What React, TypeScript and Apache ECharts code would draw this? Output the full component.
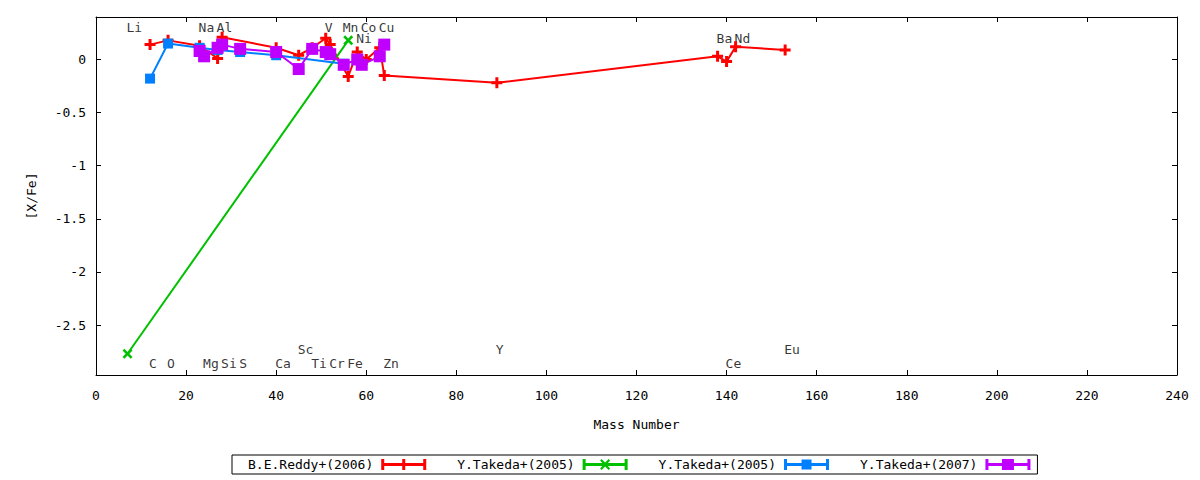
import React, { useEffect, useRef } from "react";
import * as echarts from "echarts";

// ---- data ----
const reddyX = [12, 16, 23, 27, 28, 40, 45, 48, 51, 52, 56, 58, 60, 63, 64, 89, 138, 140, 142, 153];
const reddyY = [0.14, 0.18, 0.13, 0.01, 0.21, 0.11, 0.04, 0.11, 0.2, 0.14, -0.16, 0.07, 0.0, 0.11, -0.15, -0.22, 0.03, -0.02, 0.12, 0.09];

const takeda05aX = [7, 56];
const takeda05aY = [-2.77, 0.18];

const takeda05bX = [12, 16, 23, 27, 32, 40, 55];
const takeda05bY = [-0.18, 0.15, 0.11, 0.09, 0.07, 0.04, -0.04];

const takeda07X = [23, 24, 27, 28, 32, 40, 45, 48, 51, 52, 55, 58, 59, 63, 64];
const takeda07Y = [0.08, 0.03, 0.11, 0.14, 0.1, 0.07, -0.09, 0.1, 0.07, 0.05, -0.05, 0.0, -0.05, 0.03, 0.14];

const elementNames = ["Li", "C", "O", "Na", "Mg", "Al", "Si", "S", "Ca", "Sc", "Ti", "V", "Cr", "Mn", "Fe", "Co", "Ni", "Cu", "Zn", "Y", "Ba", "Ce", "Nd", "Eu"];
const elementX = [7, 12, 16, 23, 24, 27, 28, 32, 40, 45, 48, 51, 52, 55, 56, 59, 58, 63, 64, 89, 138, 140, 142, 153];
const elementY = [0.3, -2.86, -2.86, 0.3, -2.86, 0.3, -2.86, -2.86, -2.86, -2.73, -2.86, 0.3, -2.86, 0.3, -2.86, 0.3, 0.2, 0.3, -2.86, -2.73, 0.2, -2.86, 0.2, -2.73];

const seriesNames = ["B.E.Reddy+(2006)", "Y.Takeda+(2005)", "Y.Takeda+(2005) #2", "Y.Takeda+(2007)"];
const yTickValues = [-2.5, -2, -1.5, -1, -0.5, 0];
const xMin = 0;
const xMax = 240;
const xStep = 20;
const yMin = -2.97;
const yMax = 0.4;

const FONT = "DejaVu Sans Mono";

const plusSym = "path://M4,0h3v4h4v3h-4v4h-3v-4h-4v-3h4z";
const crossSym = "path://M0,2L2,0L5.5,3.5L9,0L11,2L7.5,5.5L11,9L9,11L5.5,7.5L2,11L0,9L3.5,5.5Z";

const capBar = "M0,0h3v11h-3z M42,0h3v11h-3z M0,4h45v3h-45z";
const iconRed = "path://" + capBar + " M21,0h3v11h-3z M17,4h11v3h-11z";
const iconGreen = "path://" + capBar + " M17.5,1.5L19,0L22.5,3.5L26,0L27.5,1.5L24,5.5L27.5,9.5L26,11L22.5,7.5L19,11L17.5,9.5L21,5.5Z";
const iconBlue = "path://" + capBar + " M17.5,0.5h10v10h-10z";
const iconPurple = "path://" + capBar + " M16.5,0h12v11h-12z";

function zip(xs: number[], ys: number[]) {
  return xs.map((x, i) => [x, ys[i]]);
}

export default function App() {
  const ref = useRef<HTMLDivElement>(null);

  useEffect(() => {
    if (!ref.current) return;
    const chart = echarts.init(ref.current, undefined, { renderer: "svg" });

    const tickStyle = { show: true, inside: true, length: 5, lineStyle: { color: "#000", width: 1 } };
    const axisLineStyle = { show: true, onZero: false, lineStyle: { color: "#000", width: 1 } };

    const lineSeries = (name: string, data: number[][], color: string, symbol: string, size: number, z: number) => ({
      name,
      type: "line",
      data,
      symbol,
      symbolSize: size,
      showAllSymbol: true,
      lineStyle: { color, width: 2 },
      itemStyle: { color, borderWidth: 0 },
      z,
      emphasis: { disabled: true },
    });

    chart.setOption({
      animation: false,
      backgroundColor: "#fff",
      textStyle: { fontFamily: FONT },
      grid: { left: 96, right: 23, top: 17, bottom: 105, show: false },
      xAxis: [
        {
          type: "value",
          min: xMin,
          max: xMax,
          interval: xStep,
          name: "Mass Number",
          nameLocation: "middle",
          nameGap: 43,
          nameTextStyle: { fontFamily: FONT, fontSize: 13, color: "#000" },
          axisLine: axisLineStyle,
          axisTick: tickStyle,
          axisLabel: { fontFamily: FONT, fontSize: 13, color: "#000", margin: 14 },
          splitLine: { show: false },
        },
        {
          type: "value",
          position: "top",
          min: xMin,
          max: xMax,
          interval: xStep,
          axisLine: axisLineStyle,
          axisTick: tickStyle,
          axisLabel: { show: false },
          splitLine: { show: false },
        },
      ],
      yAxis: [
        {
          type: "value",
          position: "left",
          min: yMin,
          max: yMax,
          name: "[X/Fe]",
          nameLocation: "middle",
          nameGap: 58,
          nameTextStyle: { fontFamily: FONT, fontSize: 13, color: "#000" },
          axisLine: axisLineStyle,
          axisTick: { ...tickStyle, customValues: yTickValues },
          axisLabel: { fontFamily: FONT, fontSize: 13, color: "#000", margin: 10, customValues: yTickValues },
          splitLine: { show: false },
        },
        {
          type: "value",
          position: "right",
          min: yMin,
          max: yMax,
          axisLine: axisLineStyle,
          axisTick: { ...tickStyle, customValues: yTickValues },
          axisLabel: { show: false, customValues: yTickValues },
          splitLine: { show: false },
        },
      ],
      legend: {
        data: [
          { name: seriesNames[0], icon: iconRed },
          { name: seriesNames[1], icon: iconGreen },
          { name: seriesNames[2], icon: iconBlue },
          { name: seriesNames[3], icon: iconPurple },
        ],
        formatter: (n: string) => n.replace(" #2", ""),
        left: 232,
        top: 455,
        orient: "horizontal",
        align: "right",
        itemWidth: 45,
        itemHeight: 11,
        itemGap: 31,
        padding: [3, 7, 3, 16],
        borderColor: "#000",
        borderWidth: 1,
        borderRadius: 0,
        selectedMode: false,
        itemStyle: { borderWidth: 0 },
        textStyle: { fontFamily: FONT, fontSize: 13, color: "#000", padding: [0, 3, 0, 0] },
      },
      series: [
        {
          name: "labels",
          type: "scatter",
          data: elementNames.map((n, i) => ({ name: n, value: [elementX[i], elementY[i]] })),
          symbolSize: 1,
          itemStyle: { color: "rgba(0,0,0,0)" },
          silent: true,
          z: 1,
          label: {
            show: true,
            formatter: "{b}",
            position: "inside",
            align: "left",
            verticalAlign: "middle",
            offset: [-1, 0],
            fontFamily: FONT,
            fontSize: 13,
            color: "#000",
          },
        },
        lineSeries(seriesNames[0], zip(reddyX, reddyY), "#ff0000", plusSym, 11, 5),
        lineSeries(seriesNames[1], zip(takeda05aX, takeda05aY), "#00c000", crossSym, 10, 6),
        lineSeries(seriesNames[2], zip(takeda05bX, takeda05bY), "#0080ff", "rect", 10, 7),
        lineSeries(seriesNames[3], zip(takeda07X, takeda07Y), "#c000ff", "rect", 12, 8),
      ],
    });

    return () => chart.dispose();
  }, []);

  return (
    <div
      ref={ref}
      style={{ position: "fixed", left: 0, top: 0, width: 1200, height: 480, background: "#fff" }}
    />
  );
}
